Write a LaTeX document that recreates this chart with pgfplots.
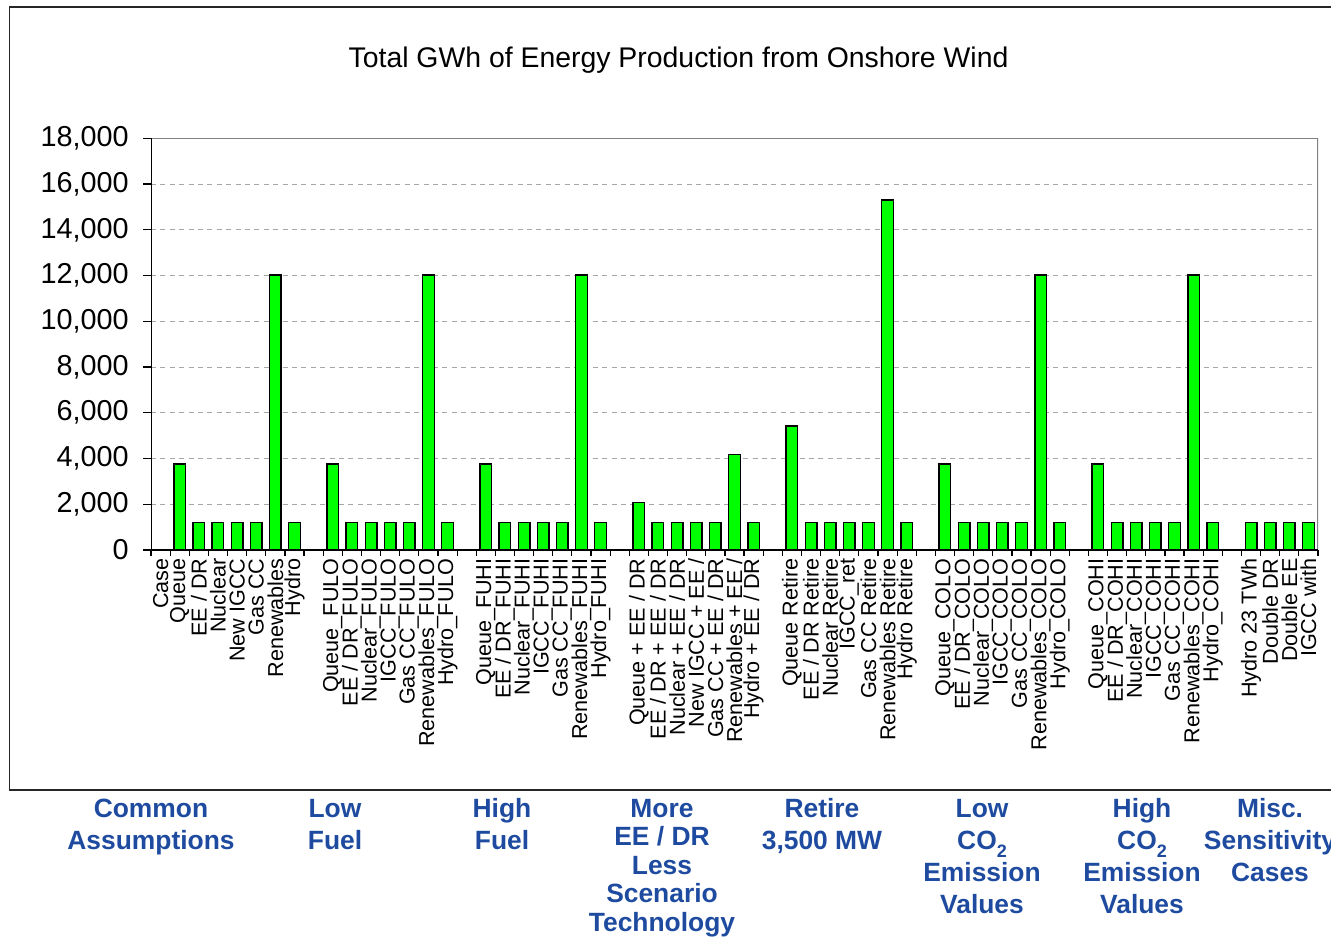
\documentclass[border=0pt]{standalone}
\usepackage{pgfplots}
\pgfplotsset{compat=1.18}
\usepackage{fontspec}
\setmainfont{Liberation Sans}
\definecolor{barg}{RGB}{0,255,0}
\definecolor{grpblue}{RGB}{30,75,160}
\newcommand{\gl}[3]{\node[anchor=base,inner sep=0pt,text=grpblue,font=\fontsize{13.2}{15}\selectfont\bfseries] at (#1,#2) {#3};}
\newcommand{\cotwo}{CO\raisebox{-4pt}{\fontsize{9}{9}\selectfont 2}}
\begin{document}
\begin{tikzpicture}
\begin{scope}[x=0.5pt,y=-0.5pt]
\useasboundingbox (0,0) rectangle (1331,936);
\fill[white] (0,0) rectangle (1331,936);
\draw[line width=0.65pt, black!85] (1345,7) -- (9.5,7) -- (9.5,790) -- (1345,790);
\node[font=\fontsize{14.2}{17}\selectfont, anchor=base, inner sep=0pt] at (678.5,67.2) {Total GWh of Energy Production from Onshore Wind};
\gl{151}{817.5}{Common}
\gl{151}{849.5}{Assumptions}
\gl{335}{817.5}{Low}
\gl{335}{849.5}{Fuel}
\gl{502}{817.5}{High}
\gl{502}{849.5}{Fuel}
\gl{662}{817.5}{More}
\gl{662}{845.5}{EE / DR}
\gl{662}{874.5}{Less}
\gl{662}{902.5}{Scenario}
\gl{662}{931.5}{Technology}
\gl{822}{817.5}{Retire}
\gl{822}{849.5}{3,500 MW}
\gl{982}{817.5}{Low}
\gl{982}{849.5}{\cotwo}
\gl{982}{881.5}{Emission}
\gl{982}{913.5}{Values}
\gl{1142}{817.5}{High}
\gl{1142}{849.5}{\cotwo}
\gl{1142}{881.5}{Emission}
\gl{1142}{913.5}{Values}
\gl{1270}{817.5}{Misc.}
\gl{1270}{849.5}{Sensitivity}
\gl{1270}{881.5}{Cases}
\end{scope}
\begin{axis}[
  at={(75.5pt,-275pt)}, anchor=south west,
  scale only axis, width=583.5pt, height=205.85pt,
  xmin=-0.5, xmax=60.5, ymin=0, ymax=18000,
  enlargelimits=false,
  axis line style={draw=none},
  tick pos=left, tick align=outside,
  major tick length=4pt,
  tick style={black, line width=0.6pt},
  xtick={-0.5,0.5,...,60.5},
  x tick label as interval,
  xticklabels={Case,Queue,EE / DR,Nuclear,New IGCC,Gas CC,Renewables,Hydro,{},%
Queue\_FULO,EE / DR\_FULO,Nuclear\_FULO,IGCC\_FULO,Gas CC\_FULO,Renewables\_FULO,Hydro\_FULO,{},%
Queue\_FUHI,EE / DR\_FUHI,Nuclear\_FUHI,IGCC\_FUHI,Gas CC\_FUHI,Renewables\_FUHI,Hydro\_FUHI,{},%
Queue + EE / DR,EE / DR + EE / DR,Nuclear + EE / DR,New IGCC + EE /,Gas CC + EE / DR,Renewables + EE /,Hydro + EE / DR,{},%
Queue Retire,EE / DR Retire,Nuclear Retire,IGCC\_ret,Gas CC Retire,Renewables Retire,Hydro Retire,{},%
Queue\_COLO,EE / DR\_COLO,Nuclear\_COLO,IGCC\_COLO,Gas CC\_COLO,Renewables\_COLO,Hydro\_COLO,{},%
Queue\_COHI,EE / DR\_COHI,Nuclear\_COHI,IGCC\_COHI,Gas CC\_COHI,Renewables\_COHI,Hydro\_COHI,{},%
Hydro 23 TWh,Double DR,Double EE,IGCC with},
  xtick style={/pgfplots/major tick length=3pt},
  xticklabel style={rotate=90, anchor=east, inner sep=0pt, font=\fontsize{10.8}{12}\selectfont},
  ytick={0,2000,...,18000},
  scaled y ticks=false,
  yticklabel style={inner sep=0pt, anchor=east, font=\fontsize{14.4}{17}\selectfont, xshift=-7pt},
  /pgf/number format/.cd, fixed, 1000 sep={,}, assume math mode=true, /pgfplots/.cd,
  ymajorgrids,
  major grid style={dash pattern=on 2.5pt off 2.2pt, color=black!35, line width=0.5pt},
]
\addplot[ybar, bar width=5.8pt, fill=barg, draw=black, line width=0.7pt] coordinates {
(1,3760) (2,1210) (3,1210) (4,1210) (5,1210) (6,12030) (7,1210)
(9,3760) (10,1210) (11,1210) (12,1210) (13,1210) (14,12030) (15,1210)
(17,3760) (18,1210) (19,1210) (20,1210) (21,1210) (22,12030) (23,1210)
(25,2090) (26,1210) (27,1210) (28,1210) (29,1210) (30,4185) (31,1210)
(33,5420) (34,1210) (35,1210) (36,1210) (37,1210) (38,15300) (39,1210)
(41,3760) (42,1210) (43,1210) (44,1210) (45,1210) (46,12030) (47,1210)
(49,3760) (50,1210) (51,1210) (52,1210) (53,1210) (54,12030) (55,1210)
(57,1210) (58,1210) (59,1210) (60,1210)
};
\draw[color=black!50, line width=0.75pt] (rel axis cs:0,1) -- (rel axis cs:1,1) -- (rel axis cs:1,0);
\draw[black, line width=0.65pt] (rel axis cs:0,1) -- (rel axis cs:0,0) -- (rel axis cs:1,0);
\end{axis}
\end{tikzpicture}
\end{document}
